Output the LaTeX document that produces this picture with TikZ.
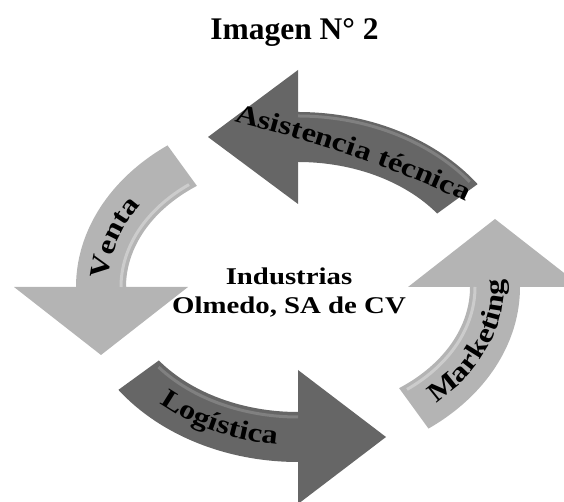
\documentclass[tikz,border=0pt]{standalone}
\usepackage{fontspec}
\setmainfont{Liberation Serif}
\newfontfamily\rotfont[FakeStretch=1.2]{Liberation Serif}
\usepackage{tikz}
\usetikzlibrary{calc, decorations.text}
\definecolor{grisoscuro}{RGB}{102,102,102}
\definecolor{grisclaro}{RGB}{180,180,180}
\definecolor{brillooscuro}{RGB}{128,128,128}
\definecolor{brilloclaro}{RGB}{204,204,204}
\tikzstyle{oscura} = [fill=grisoscuro]
\tikzstyle{clara} = [fill=grisclaro]
\tikzstyle{brillo} = [line width=3pt]
\tikzset{rotulo/.style={decorate, decoration={text along path, text align=center,
  text={|\rotfont\bfseries\fontsize{27}{27}\selectfont|#1}}}}

\begin{document}
\begin{tikzpicture}[x=1pt, y=1pt]
      \useasboundingbox (0,0) rectangle (564,502);
      \coordinate (C) at (298,215);

      \node (titulo) [anchor=base, font=\bfseries\fontsize{31.5}{36}\selectfont] at (294.5,462) {Imagen N° 2};

      \fill[oscura] ($(C)+(36:222pt and 175pt)$) arc[start angle=36, end angle=90, x radius=222pt, y radius=175pt]
            -- ++(0,42) -- ++(-90,-67) -- ++(90,-67) -- ++(0,42)
            arc[start angle=90, end angle=36, x radius=172pt, y radius=125pt] -- cycle;
      \fill[clara] ($(C)+(126:222pt and 175pt)$) arc[start angle=126, end angle=180, x radius=222pt, y radius=175pt]
            -- ++(-62,0) -- ++(87,-68) -- ++(87,68) -- ++(-62,0)
            arc[start angle=180, end angle=126, x radius=172pt, y radius=125pt] -- cycle;
      \fill[oscura] ($(C)+(216:222pt and 175pt)$) arc[start angle=216, end angle=270, x radius=222pt, y radius=175pt]
            -- ++(0,-42) -- ++(88,67) -- ++(-88,67) -- ++(0,-42)
            arc[start angle=270, end angle=216, x radius=172pt, y radius=125pt] -- cycle;
      \fill[clara] ($(C)+(306:222pt and 175pt)$) arc[start angle=306, end angle=360, x radius=222pt, y radius=175pt]
            -- ++(62,0) -- ++(-87,68) -- ++(-87,-68) -- ++(62,0)
            arc[start angle=360, end angle=306, x radius=172pt, y radius=125pt] -- cycle;

      \draw[brillo, brillooscuro] ($(C)+(38:218pt and 171pt)$) arc[start angle=38, end angle=90, x radius=218pt, y radius=171pt];
      \draw[brillo, brilloclaro] ($(C)+(128:177pt and 130pt)$) arc[start angle=128, end angle=180, x radius=177pt, y radius=130pt];
      \draw[brillo, brillooscuro] ($(C)+(218:177pt and 130pt)$) arc[start angle=218, end angle=270, x radius=177pt, y radius=130pt];
      \draw[brillo, brilloclaro] ($(C)+(308:177pt and 130pt)$) arc[start angle=308, end angle=360, x radius=177pt, y radius=130pt];

      \path[rotulo={Asistencia técnica}] (225,383) .. controls (310,362) and (400,333) .. (474,296);
      \path[rotulo={Venta}] ($(C)+(195:190pt and 145pt)$) arc[start angle=195, end angle=130, x radius=190pt, y radius=145pt];
      \path[rotulo={Logística}] ($(C)+(215:205pt and 158pt)$) arc[start angle=215, end angle=275, x radius=205pt, y radius=158pt];
      \path[rotulo={Marketing}] ($(C)+(-50:206pt and 156pt)$) arc[start angle=-50, end angle=5, x radius=206pt, y radius=156pt];

      \node (empresa) [align=center, font=\rotfont\bfseries\fontsize{24}{29}\selectfont] at (289,209.5) {Industrias\\Olmedo, SA de CV};
\end{tikzpicture}
\end{document}
